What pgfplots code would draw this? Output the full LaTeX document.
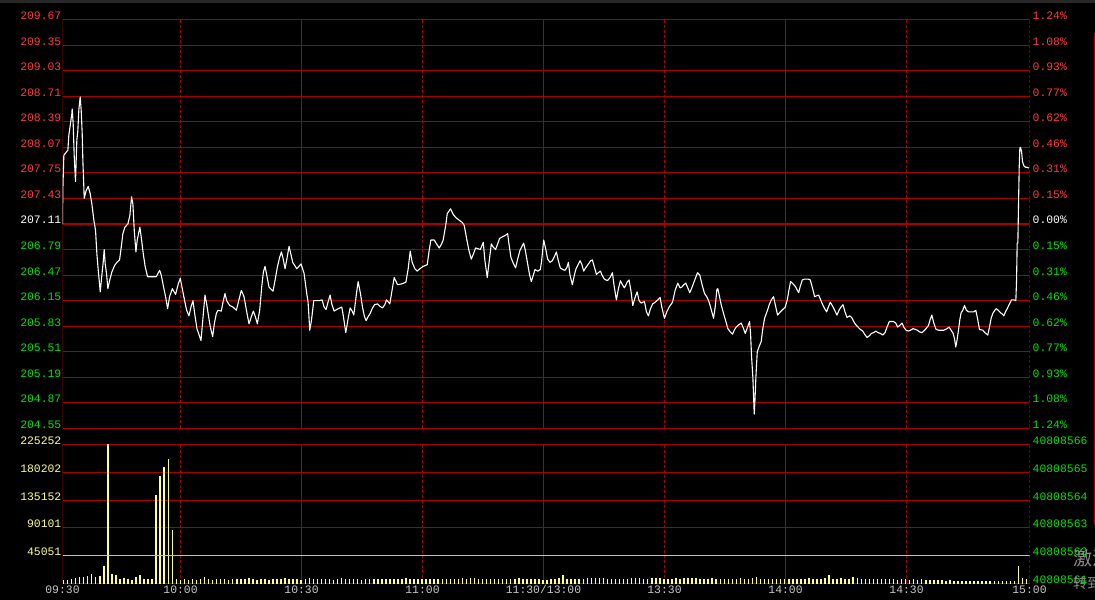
\documentclass[border=0pt]{standalone}
\usepackage{pgfplots}
\pgfplotsset{compat=1.18}
\usepackage{pgfplotstable}
\usepackage{fontspec}
\setmainfont{Liberation Mono}
\newfontfamily\cjk{Noto Sans CJK SC}
\definecolor{gridred}{RGB}{170,0,0}
\definecolor{lblred}{RGB}{255,60,60}
\definecolor{lblgreen}{RGB}{0,230,0}
\definecolor{lblyellow}{RGB}{255,255,130}
\definecolor{volyellow}{RGB}{255,255,128}
\definecolor{volline}{RGB}{120,255,60}
\definecolor{timegray}{RGB}{200,200,200}
\definecolor{topgray}{RGB}{40,40,40}
\definecolor{wmgray}{RGB}{140,140,140}

\pgfplotstableread{
m p
0 207.11
0.08 207.53
0.33 207.97
1.08 208.02
1.33 208.03
1.57 208.22
1.99 208.37
2.32 208.49
2.40 208.55
2.65 208.37
2.90 207.97
3.23 207.64
3.56 208.16
3.81 208.28
4.06 208.54
4.39 208.70
4.64 208.53
4.89 208.24
5.05 207.91
5.30 207.57
5.38 207.43
5.88 207.53
6.38 207.58
6.87 207.49
7.29 207.36
7.78 207.16
8.20 207.03
8.53 206.74
8.94 206.49
9.19 206.36
9.36 206.26
9.77 206.47
10.10 206.63
10.35 206.79
10.60 206.61
10.93 206.49
11.26 206.30
11.68 206.40
12.26 206.51
12.92 206.59
13.50 206.63
14.16 206.66
14.58 206.82
14.99 206.99
15.49 207.07
16.23 207.11
16.73 207.22
17.14 207.45
17.47 207.36
17.81 207.03
18.22 206.76
18.55 206.91
18.88 206.99
19.21 207.07
19.63 206.91
20.04 206.74
20.54 206.57
21.12 206.45
23.27 206.45
24.10 206.53
24.51 206.47
25.09 206.32
25.59 206.20
26.09 206.05
26.58 206.20
27.25 206.30
28.07 206.23
28.74 206.36
29.23 206.43
29.73 206.30
30.31 206.15
30.81 206.03
31.39 205.96
31.88 206.07
32.38 206.15
32.80 205.99
33.37 205.80
34.04 205.70
34.37 205.65
34.70 205.84
35.36 206.22
35.78 206.11
36.27 205.95
36.69 205.82
37.27 205.70
37.68 205.86
38.18 205.99
38.59 206.03
39.42 206.02
39.83 206.13
40.33 206.24
40.75 206.15
41.49 206.09
42.32 206.07
43.15 206.03
43.73 206.15
44.39 206.28
45.05 206.20
45.80 205.99
46.29 205.86
46.87 205.95
47.37 206.02
47.87 205.95
48.36 205.86
48.94 206.03
49.44 206.32
49.86 206.51
50.27 206.58
50.77 206.45
51.26 206.32
52.26 206.27
52.84 206.43
53.33 206.57
53.83 206.68
54.33 206.76
54.74 206.68
55.24 206.55
55.65 206.66
56.23 206.83
56.65 206.74
57.14 206.63
58.14 206.55
59.21 206.61
59.96 206.49
60.62 206.24
60.95 206.13
61.37 205.78
61.78 205.90
62.36 206.15
62.86 206.15
63.69 206.15
64.43 206.16
64.93 206.07
65.42 206.04
66.00 206.15
66.42 206.22
66.83 206.11
67.41 206.02
68.41 206.05
69.32 206.07
69.73 205.95
70.31 205.75
70.97 205.95
71.39 206.06
71.88 206.02
72.30 205.97
72.96 206.24
73.37 206.39
73.95 206.24
74.45 206.07
74.95 205.95
75.36 205.90
75.86 205.95
76.36 205.99
76.85 206.05
77.43 206.10
78.18 206.11
78.76 206.08
79.42 206.06
80.00 206.10
80.41 206.16
81.24 206.11
81.66 206.24
82.32 206.44
83.15 206.35
84.14 206.36
85.22 206.38
85.80 206.55
86.29 206.77
86.79 206.63
87.45 206.55
88.03 206.52
88.70 206.55
89.52 206.58
90.52 206.60
91.01 206.78
91.43 206.91
92.26 206.91
92.84 206.86
93.50 206.81
94.08 206.86
94.49 206.91
95.16 207.11
95.49 207.24
96.31 207.30
96.98 207.23
97.64 207.19
98.39 207.16
99.21 207.13
99.71 207.09
100.29 206.93
100.87 206.78
101.45 206.67
102.03 206.74
102.53 206.81
103.19 206.80
103.69 206.79
104.43 206.88
104.84 206.65
105.42 206.44
105.92 206.65
106.42 206.86
106.92 206.82
107.49 206.79
107.99 206.86
108.49 206.93
109.23 206.95
109.98 206.97
110.48 206.99
110.81 206.86
111.30 206.69
111.88 206.62
112.46 206.56
112.96 206.67
113.54 206.78
114.45 206.87
114.87 206.78
115.45 206.61
115.94 206.47
116.36 206.39
116.85 206.47
117.27 206.54
117.93 206.52
118.59 206.54
118.92 206.65
119.42 206.91
119.92 206.80
120.41 206.67
120.99 206.63
121.57 206.65
122.07 206.70
122.57 206.76
123.06 206.65
123.56 206.56
124.14 206.54
124.72 206.53
125.22 206.57
125.55 206.63
125.96 206.47
126.54 206.35
127.04 206.47
127.45 206.55
127.87 206.59
128.45 206.65
128.86 206.61
129.36 206.52
129.69 206.55
130.52 206.61
131.10 206.65
131.51 206.66
132.01 206.57
132.51 206.48
133.00 206.50
133.50 206.52
133.91 206.47
134.49 206.42
135.24 206.40
135.90 206.44
136.48 206.50
136.89 206.34
137.47 206.16
137.97 206.30
138.47 206.40
138.97 206.35
139.46 206.31
140.12 206.38
140.62 206.41
141.12 206.26
141.53 206.09
142.11 206.19
142.61 206.26
143.11 206.15
143.60 206.12
144.43 206.14
144.93 206.01
145.42 205.96
145.92 206.05
146.50 206.11
147.08 206.13
147.74 206.16
148.32 206.19
148.74 206.07
149.40 205.93
149.98 206.01
150.56 206.07
151.39 206.13
152.05 206.28
152.71 206.37
153.29 206.31
153.71 206.32
154.20 206.35
154.70 206.37
155.11 206.32
155.69 206.25
156.19 206.31
156.85 206.40
157.60 206.50
158.18 206.47
158.68 206.36
159.34 206.24
160.00 206.19
160.50 206.13
161.16 206.01
161.58 205.93
161.99 206.07
162.41 206.29
162.65 206.30
163.07 206.20
163.48 206.10
164.06 205.99
164.64 205.89
165.14 205.80
165.72 205.76
166.30 205.73
166.71 205.78
167.21 205.82
167.87 205.85
168.45 205.87
169.03 205.80
169.45 205.74
170.03 205.82
170.52 205.89
170.77 205.74
171.02 205.45
171.35 205.18
171.52 204.95
171.68 204.73
171.85 204.89
172.10 205.20
172.43 205.51
172.92 205.58
173.42 205.64
173.75 205.78
174.25 205.93
174.83 206.01
175.41 206.10
175.91 206.16
176.48 206.20
176.90 206.10
177.48 205.97
177.98 206.00
178.56 206.03
179.38 206.07
179.88 206.16
180.29 206.28
180.71 206.39
181.29 206.36
181.87 206.33
182.28 206.29
182.70 206.25
183.11 206.33
183.61 206.41
184.19 206.42
185.02 206.42
185.59 206.41
186.17 206.30
186.67 206.20
187.09 206.21
187.67 206.22
188.08 206.17
188.66 206.10
189.16 206.05
189.65 206.01
190.07 206.07
190.56 206.13
191.14 206.08
191.64 206.03
192.22 205.97
192.72 206.03
193.21 206.07
193.71 206.10
194.21 206.01
194.70 205.94
195.37 205.96
195.86 205.94
196.36 205.89
196.86 205.85
197.44 205.82
198.02 205.79
198.60 205.77
199.09 205.73
199.67 205.69
200.25 205.71
200.75 205.74
201.33 205.75
201.83 205.77
202.41 205.75
202.99 205.74
203.57 205.72
204.15 205.75
204.64 205.82
205.22 205.89
205.72 205.89
206.22 205.89
206.80 205.87
207.29 205.82
207.79 205.84
208.37 205.87
208.78 205.82
209.36 205.78
209.94 205.77
210.44 205.78
211.10 205.80
211.68 205.79
212.18 205.78
212.68 205.76
213.26 205.75
213.75 205.77
214.33 205.80
214.91 205.84
215.33 205.91
215.74 205.97
216.24 205.87
216.82 205.79
217.48 205.78
218.72 205.78
219.55 205.80
220.05 205.82
220.54 205.78
221.04 205.74
221.37 205.68
221.70 205.57
222.03 205.66
222.37 205.78
222.70 205.91
223.03 206.00
223.44 206.03
223.86 206.09
224.35 206.03
224.85 206.01
226.18 206.01
226.67 206.03
227.09 205.93
227.58 205.79
228.41 205.78
228.91 205.75
229.65 205.72
230.07 205.82
230.48 205.93
230.89 205.99
231.39 206.03
231.72 206.05
232.22 206.03
232.80 206.00
233.30 205.98
233.63 205.96
234.04 206.01
234.46 206.05
235.04 206.11
235.53 206.16
236.11 206.16
236.61 206.15
236.78 206.39
236.94 206.87
237.11 206.87
237.27 207.34
237.44 207.81
237.60 208.06
237.77 208.07
238.02 208.02
238.27 207.89
238.60 207.84
239.01 207.82
239.43 207.82
239.84 207.81
}\pricedata

\pgfplotstableread{
k v
0 5400
1 5400
2 7000
3 9200
4 10300
5 10300
6 11900
7 15100
8 10800
9 11900
10 28100
11 225252
12 15100
13 13000
14 7000
15 9200
16 7000
17 5900
18 10300
19 13500
20 7000
21 7000
22 7000
23 143100
24 173900
25 188500
26 201500
27 86400
28 7000
29 5000
30 7000
31 5900
32 7000
33 5400
34 7000
35 10300
36 7000
37 6000
38 8100
39 7000
40 6500
41 5400
42 7000
43 8100
44 6500
45 7000
46 9200
47 7000
48 6000
49 8100
50 7000
51 5400
52 6500
53 8100
54 7000
55 9700
56 7000
57 6500
58 8100
59 6000
60 7000
61 9200
62 8100
63 7000
64 6500
65 7000
66 8100
67 6000
68 7000
69 9200
70 7000
71 6500
72 8100
73 7000
74 6000
75 7000
76 8100
77 7000
78 6500
79 8100
80 7000
81 7000
82 6500
83 7000
84 8100
85 9700
86 7000
87 7000
88 7000
89 7000
90 7000
91 7000
92 7000
93 7000
94 7000
95 8100
96 8100
97 7000
98 8100
99 9200
100 8100
101 9200
102 9200
103 8100
104 7000
105 7000
106 7000
107 8100
108 7000
109 8100
110 8100
111 7000
112 7000
113 9700
114 8100
115 8100
116 8100
117 7000
118 7000
119 5400
120 5400
121 7000
122 8100
123 9200
124 13500
125 8100
126 8100
127 7000
128 8100
129 8100
130 9200
131 9700
132 9200
133 9200
134 9200
135 7000
136 8100
137 8100
138 8100
139 7000
140 8100
141 9200
142 9700
143 9200
144 8100
145 8100
146 9700
147 9700
148 9200
149 8100
150 8100
151 8100
152 9200
153 8100
154 9200
155 9200
156 9200
157 9200
158 8100
159 7000
160 8100
161 9200
162 7000
163 8100
164 7000
165 6500
166 8100
167 7000
168 9200
169 8100
170 7000
171 9700
172 11000
173 8100
174 7000
175 8100
176 7000
177 6500
178 8100
179 7000
180 8100
181 7000
182 6500
183 8100
184 7000
185 9200
186 8100
187 7000
188 8100
189 9200
190 13000
191 8100
192 7000
193 9200
194 8100
195 7000
196 11000
197 9200
198 8100
199 7000
200 8100
201 7000
202 6500
203 7000
204 8100
205 6500
206 7000
207 6000
208 7000
209 6500
210 6000
211 7000
212 5400
213 6500
214 5400
215 6000
216 5400
217 5000
218 5400
219 4800
220 5400
221 4300
222 4800
223 4300
224 4800
225 4300
226 4300
227 4800
228 4300
229 4300
230 4300
231 4300
232 4300
233 4300
234 4300
235 4300
236 3700
237 28600
238 9700
239 7000
}\voldata

\pgfplotsset{
  base/.style={
    scale only axis, anchor=south west, width=967bp,
    xmin=0, xmax=240,
    axis line style={draw=none}, tick style={draw=none},
    major tick length=0pt,
    ticklabel style={font=\fontsize{11.4bp}{13bp}\selectfont},
  },
  leftlbl/.style={ytick pos=left, yticklabel style={anchor=base east, inner sep=0pt, xshift=-1bp}},
  rightlbl/.style={ytick pos=right, yticklabel pos=right, xtick=\empty,
    yticklabel style={anchor=base west, inner sep=0pt, xshift=3bp}},
}

\begin{document}
\begin{tikzpicture}
\useasboundingbox (0,0) rectangle (1095bp,600bp);
\fill[black] (0,0) rectangle (1095bp,600bp);
\fill[topgray] (0,597bp) rectangle (1095bp,600bp);
\draw[gridred, line width=1bp] (1094.5bp,75bp) -- (1094.5bp,567bp);

% ---------------- price panel ----------------
\begin{axis}[base, leftlbl, at={(62.5bp,171.5bp)}, height=409bp,
  ymin=204.55, ymax=209.67, xtick=\empty,
  ytick={204.55,204.87,205.19,205.51,205.83,206.15,206.47,206.79,207.11,207.43,207.75,208.07,208.39,208.71,209.03,209.35,209.67},
  yticklabels={\textcolor{lblgreen}{204.55},\textcolor{lblgreen}{204.87},\textcolor{lblgreen}{205.19},\textcolor{lblgreen}{205.51},\textcolor{lblgreen}{205.83},\textcolor{lblgreen}{206.15},\textcolor{lblgreen}{206.47},\textcolor{lblgreen}{206.79},\textcolor{white}{207.11},\textcolor{lblred}{207.43},\textcolor{lblred}{207.75},\textcolor{lblred}{208.07},\textcolor{lblred}{208.39},\textcolor{lblred}{208.71},\textcolor{lblred}{209.03},\textcolor{lblred}{209.35},\textcolor{lblred}{209.67}},
]
\pgfplotsinvokeforeach{204.55,204.87,205.19,205.51,205.83,206.15,206.47,206.79,207.43,207.75,208.07,208.39,208.71,209.03,209.35,209.67}{
  \draw[gridred, line width=1bp] (axis cs:0,#1) -- (axis cs:240,#1);
}
\draw[gridred, line width=2bp] (axis cs:0,207.11) -- (axis cs:240,207.11);
\pgfplotsinvokeforeach{0,59.32,119.38,179.45}{
  \draw[gridred, line width=1bp] (axis cs:#1,204.55) -- (axis cs:#1,209.67);
}
\pgfplotsinvokeforeach{29.29,89.35,149.41,209.48,240}{
  \draw[gridred, line width=1bp, dash pattern=on 3bp off 2bp] (axis cs:#1,204.55) -- (axis cs:#1,209.67);
}
\addplot[white, line width=1.1bp, line join=round, mark=none] table[x=m, y=p] {\pricedata};
\end{axis}

\begin{axis}[base, rightlbl, at={(62.5bp,171.5bp)}, height=409bp,
  ymin=204.55, ymax=209.67,
  ytick={204.55,204.87,205.19,205.51,205.83,206.15,206.47,206.79,207.11,207.43,207.75,208.07,208.39,208.71,209.03,209.35,209.67},
  yticklabels={\textcolor{lblgreen}{1.24\%},\textcolor{lblgreen}{1.08\%},\textcolor{lblgreen}{0.93\%},\textcolor{lblgreen}{0.77\%},\textcolor{lblgreen}{0.62\%},\textcolor{lblgreen}{0.46\%},\textcolor{lblgreen}{0.31\%},\textcolor{lblgreen}{0.15\%},\textcolor{white}{0.00\%},\textcolor{lblred}{0.15\%},\textcolor{lblred}{0.31\%},\textcolor{lblred}{0.46\%},\textcolor{lblred}{0.62\%},\textcolor{lblred}{0.77\%},\textcolor{lblred}{0.93\%},\textcolor{lblred}{1.08\%},\textcolor{lblred}{1.24\%}},
]
\end{axis}

% ---------------- volume panel ----------------
\begin{axis}[base, leftlbl, at={(62.5bp,16.5bp)}, height=139bp,
  ymin=0, ymax=225252, scaled y ticks=false,
  ytick={45051,90101,135152,180202,225252},
  yticklabels={\textcolor{lblyellow}{45051},\textcolor{lblyellow}{90101},\textcolor{lblyellow}{135152},\textcolor{lblyellow}{180202},\textcolor{lblyellow}{225252}},
  xtick={0,29.29,59.32,89.35,119.38,149.41,179.45,209.48,240},
  xticklabels={09:30,10:00,10:30,11:00,11:30/13:00,13:30,14:00,14:30,15:00},
  xticklabel style={anchor=base, inner sep=0pt, yshift=-10bp, text=timegray},
]
\pgfplotsinvokeforeach{0,90101,135152,180202,225252}{
  \draw[gridred, line width=1bp] (axis cs:0,#1) -- (axis cs:240,#1);
}
\pgfplotsinvokeforeach{0,59.32,119.38,179.45}{
  \draw[gridred, line width=1bp] (axis cs:#1,0) -- (axis cs:#1,225252);
}
\pgfplotsinvokeforeach{29.29,89.35,149.41,209.48,240}{
  \draw[gridred, line width=1bp, dash pattern=on 3bp off 2bp] (axis cs:#1,0) -- (axis cs:#1,225252);
}
\addplot[ycomb, volyellow, line width=1.5bp, mark=none] table[x expr=\thisrow{k}+0.25, y=v] {\voldata};
\draw[volline, line width=1bp] (axis cs:0,45051) -- (axis cs:240,45051);
\end{axis}

\begin{axis}[base, rightlbl, at={(62.5bp,16.5bp)}, height=139bp,
  ymin=0, ymax=225252, scaled y ticks=false,
  ytick={0,45051,90101,135152,180202,225252},
  yticklabels={\textcolor{lblgreen}{40808561},\textcolor{lblgreen}{40808562},\textcolor{lblgreen}{40808563},\textcolor{lblgreen}{40808564},\textcolor{lblgreen}{40808565},\textcolor{lblgreen}{40808566}},
]
\end{axis}

\node[anchor=north west, inner sep=0pt, text=wmgray] at (1073bp,51bp) {\cjk\fontsize{19bp}{19bp}\selectfont 激活};
\node[anchor=north west, inner sep=0pt, text=wmgray] at (1073bp,23bp) {\cjk\fontsize{14bp}{14bp}\selectfont 转到};
\end{tikzpicture}
\end{document}
